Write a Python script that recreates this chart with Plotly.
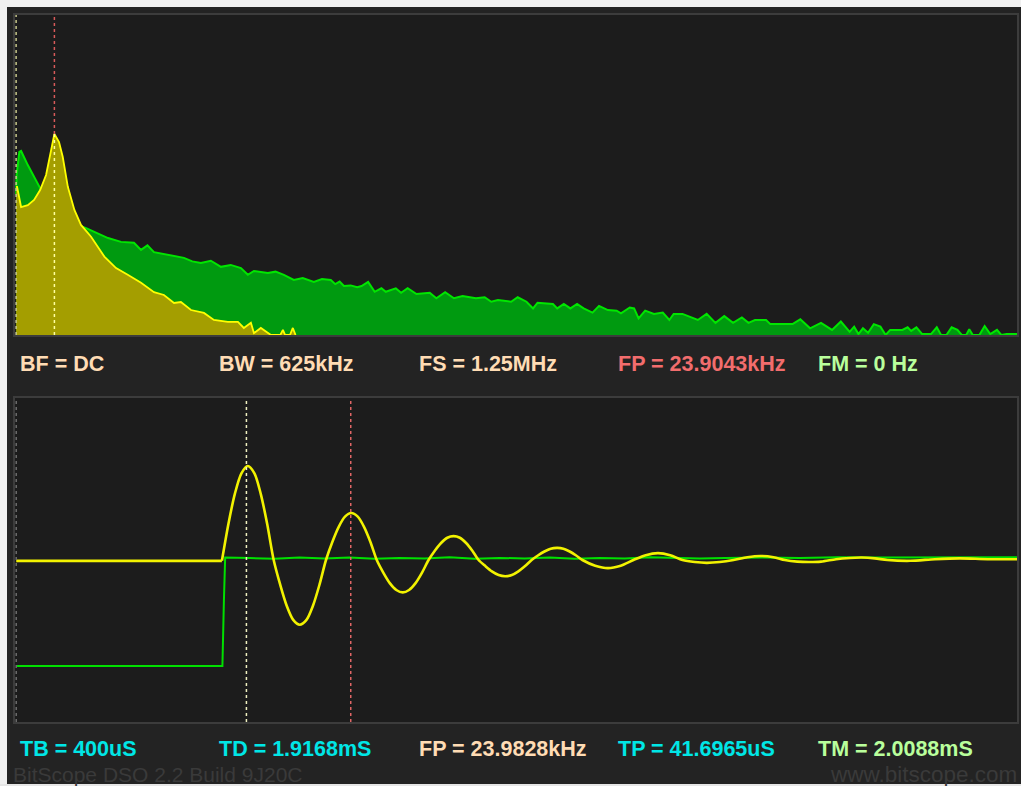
import plotly.graph_objects as go

W, H = 1021, 786

# ---------------- spectrum (top) : frequency in kHz, level in % of screen ----------------
spec_freq_a = [0.0, 0.6, 3.1, 7.3, 11.2, 15.0, 18.7, 21.8, 23.9, 26.8, 29.1, 32.3, 36.4, 40.5, 46.8,
               55.1, 62.4, 69.7, 78.0, 86.1, 92.3, 98.6, 102.9, 109.2, 117.3, 123.5, 132.2, 138.5,
               142.2, 146.6, 148.5, 152.8, 157.2, 159.1, 165.0, 166.6, 168.0, 171.0, 172.8, 174.5]
spec_level_a = [46.3, 46.3, 40.0, 40.6, 42.2, 45.3, 50.0, 57.8, 62.8, 60.3, 55.7, 46.3, 39.1, 34.4, 30.7,
                24.5, 20.9, 18.8, 16.3, 13.4, 12.5, 10.0, 10.3, 7.8, 6.9, 4.7, 4.1, 4.1,
                2.2, 3.8, 0.6, 2.2, 0.6, 0.0, 0.0, 1.6, 0.0, 0.0, 2.2, 0.0]

spec_freq_b = [0.0, 0.3, 2.0, 3.1, 7.3, 11.2, 15.0, 21.8, 29.1, 36.4, 40.5, 43.7, 49.9, 57.4, 65.5,
               73.6, 78.0, 82.0, 86.1, 94.8, 104.8, 110.0, 115.4, 121.6, 127.9, 134.0, 140.4, 144.7,
               148.5, 157.2, 162.0, 167.2, 173.4, 179.0, 185.9, 191.0, 196.5, 199.3, 202.0, 204.7,
               208.9, 213.0, 215.7, 219.8, 223.9, 228.1, 230.8, 237.1, 240.4, 244.5, 250.0, 258.3,
               262.4, 267.9, 273.4, 278.8, 287.1, 292.6, 296.7, 300.9, 309.1, 313.2, 318.7, 322.8,
               325.6, 335.2, 337.9, 342.0, 346.1, 350.3, 354.4, 359.9, 364.0, 369.5, 375.0, 377.7,
               383.2, 385.9, 388.7, 392.8, 398.3, 403.8, 407.9, 410.6, 416.1, 425.7, 431.2, 436.7,
               442.2, 447.7, 453.2, 457.3, 461.4, 468.3, 471.0, 484.8, 489.7, 495.8, 502.6, 509.5,
               515.0, 520.5, 523.3, 526.0, 528.8, 532.0, 535.6, 539.7, 543.0, 545.8, 553.4, 556.7,
               558.9, 562.2, 565.8, 571.3, 574.9, 577.6, 580.9, 584.2, 587.8, 590.5, 593.3, 595.2,
               597.4, 601.5, 604.8, 608.3, 612.5, 615.2, 618.5, 623.4, 625.0]
spec_level_b = [44.0, 50.0, 57.2, 57.5, 53.1, 49.4, 45.9, 40.0, 38.0, 35.5, 34.0, 33.4, 31.9, 30.3, 29.1,
                28.8, 26.6, 28.0, 25.9, 25.0, 24.1, 23.0, 22.5, 23.2, 21.3, 21.9, 20.9, 18.8,
                20.0, 19.4, 19.8, 18.8, 17.2, 17.8, 16.6, 17.5, 17.2, 15.9, 16.7, 15.3,
                15.5, 14.9, 15.3, 16.6, 13.5, 14.6, 13.5, 14.6, 13.2, 14.6, 12.8, 13.2,
                11.5, 13.4, 11.5, 12.2, 11.5, 11.8, 10.4, 10.9, 10.4, 11.8, 10.4, 8.3,
                10.1, 9.7, 8.3, 9.7, 8.3, 9.7, 8.3, 7.0, 9.1, 7.8, 7.6, 6.8,
                8.6, 8.3, 5.2, 7.6, 6.6, 7.0, 4.7, 6.6, 6.6, 4.7, 6.6, 3.8,
                5.9, 3.8, 5.5, 3.8, 4.7, 4.7, 3.4, 3.4, 4.9, 2.1, 3.8, 1.6,
                4.2, 1.0, 2.6, 0.3, 2.1, 0.7, 3.4, 2.6, 0.0, 1.6, 1.6, 2.4,
                1.3, 2.4, 0.3, 0.3, 2.4, 0.0, 0.0, 2.4, 1.6, 0.0, 0.0, 1.8,
                0.0, 0.0, 2.8, 0.3, 1.6, 0.0, 0.3, 0.3, 0.3]

spec_marker_fm = 0.0        # kHz
spec_marker_fp = 23.9043    # kHz

# ---------------- time domain (bottom) : time in us, volts ----------------
# channel A: pre-trigger flat part, then the ringing
chA_pre_t = [1916.8, 1999.0]
chA_pre_v = [-0.02, -0.02]
chA_t = [1999.0,
         2001.6, 2004.2, 2006.8, 2009.35, 2012.0, 2014.5, 2017.1, 2019.7,
         2022.3, 2024.9, 2027.5, 2030.1, 2032.8, 2035.4, 2038.0, 2040.6,
         2043.1, 2045.7, 2048.2, 2050.7, 2053.3, 2055.8, 2058.4, 2060.9,
         2063.5, 2066.1, 2068.7, 2071.3, 2073.8, 2076.4, 2079.0, 2081.6,
         2084.1, 2086.6, 2089.1, 2091.6, 2094.1, 2096.6, 2099.1, 2101.6,
         2104.3, 2106.9, 2109.6, 2112.2, 2114.9, 2117.5, 2120.2, 2122.8,
         2125.3, 2127.9, 2130.4, 2133.0, 2135.5, 2138.0, 2140.6, 2143.1,
         2148.2, 2153.3, 2158.4, 2163.5,
         2168.4, 2173.3, 2178.2, 2183.1,
         2188.0, 2192.8, 2198.0, 2203.5,
         2209.0, 2214.2, 2219.5, 2224.0, 2229.0, 2233.6, 2238.5, 2244.5,
         2250.0, 2254.8, 2260.0, 2265.0, 2274.1, 2284.0, 2294.0, 2305.0, 2316.8]
chA_v = [-0.02,
         0.89, 1.64, 2.14, 2.32, 2.14, 1.64, 0.89, 0.0,
         -0.61, -1.13, -1.48, -1.60, -1.48, -1.13, -0.61, 0.0,
         0.44, 0.82, 1.07, 1.16, 1.07, 0.82, 0.44, 0.0,
         -0.31, -0.57, -0.74, -0.80, -0.74, -0.57, -0.31, 0.0,
         0.23, 0.42, 0.55, 0.59, 0.55, 0.42, 0.23, 0.0,
         -0.15, -0.28, -0.37, -0.40, -0.37, -0.28, -0.15, 0.0,
         0.11, 0.21, 0.28, 0.30, 0.28, 0.21, 0.11, 0.0,
         -0.14, -0.20, -0.14, 0.0,
         0.12, 0.17, 0.12, 0.0,
         -0.05, -0.07, -0.05, 0.0,
         0.07, 0.10, 0.07, 0.0, -0.04, -0.05, -0.04, 0.02,
         0.05, 0.06, 0.04, 0.0, -0.02, 0.02, 0.04, 0.02, 0.02]

chB_t = [1916.8, 1999.2, 1999.8, 2000.3, 2010, 2020, 2030, 2040, 2050, 2060, 2070, 2080, 2090,
         2100, 2110, 2120, 2130, 2140, 2150, 2160, 2170, 2180, 2190, 2200, 2215, 2230, 2245,
         2260, 2280, 2300, 2316.8]
chB_v = [-2.62, -2.62, -1.0, 0.06, 0.05, 0.03, 0.06, 0.04, 0.06, 0.03, 0.05, 0.04, 0.07,
         0.03, 0.05, 0.04, 0.06, 0.03, 0.05, 0.04, 0.07, 0.05, 0.04, 0.05, 0.06, 0.05, 0.07,
         0.06, 0.07, 0.07, 0.07]

t_start = 1916.8
t_span = 400.0
t_cursor_tm = 2008.8
t_period = 41.6965

top_labels = [("BF = DC", "#ffdcb4"), ("BW = 625kHz", "#ffdcb4"), ("FS = 1.25MHz", "#ffdcb4"),
              ("FP = 23.9043kHz", "#f26d6d"), ("FM = 0 Hz", "#b9ff9c")]
bottom_labels = [("TB = 400uS", "#00e6e6"), ("TD = 1.9168mS", "#00e6e6"), ("FP = 23.9828kHz", "#ffdcb4"),
                 ("TP = 41.6965uS", "#00e6e6"), ("TM = 2.0088mS", "#b9ff9c")]
footer_left = "BitScope DSO 2.2 Build 9J20C"
footer_right = "www.bitscope.com"

# ---------------- figure ----------------
def px(xp):
    return xp / W

def py(yp):
    return 1 - yp / H

fig = go.Figure()

fig.add_trace(go.Scatter(x=spec_freq_b, y=spec_level_b, mode="lines", fill="tozeroy",
                         line=dict(color="#00e600", width=2), fillcolor="#009a10",
                         xaxis="x", yaxis="y", hoverinfo="skip"))
fig.add_trace(go.Scatter(x=spec_freq_a, y=spec_level_a, mode="lines", fill="tozeroy",
                         line=dict(color="#ffff00", width=1.8), fillcolor="#a49e00",
                         xaxis="x", yaxis="y", hoverinfo="skip"))

fig.add_trace(go.Scatter(x=chB_t, y=chB_v, mode="lines", line=dict(color="#00e000", width=2),
                         xaxis="x2", yaxis="y2", hoverinfo="skip"))
fig.add_trace(go.Scatter(x=chA_pre_t, y=chA_pre_v, mode="lines",
                         line=dict(color="#f2f200", width=2.8),
                         xaxis="x2", yaxis="y2", hoverinfo="skip"))
fig.add_trace(go.Scatter(x=chA_t, y=chA_v, mode="lines",
                         line=dict(color="#f2f200", width=2.6, shape="spline", smoothing=0.8),
                         xaxis="x2", yaxis="y2", hoverinfo="skip"))

axis_common = dict(showgrid=False, zeroline=False, showticklabels=False, ticks="",
                   showline=True, mirror=True, linecolor="#3c3c3c", linewidth=2, fixedrange=True)

peak_level = max(spec_level_a)

shapes = [
    # light window frame strips
    dict(type="rect", xref="paper", yref="paper", x0=0, x1=px(7), y0=0, y1=1,
         fillcolor="#f0f0f0", line=dict(width=0), layer="above"),
    dict(type="rect", xref="paper", yref="paper", x0=0, x1=1, y0=py(7), y1=1,
         fillcolor="#f0f0f0", line=dict(width=0), layer="above"),
    dict(type="rect", xref="paper", yref="paper", x0=0, x1=1, y0=0, y1=py(784),
         fillcolor="#e6e6e6", line=dict(width=0), layer="above"),
    # spectrum cursors
    dict(type="line", xref="x", yref="y", x0=spec_marker_fm, x1=spec_marker_fm, y0=0, y1=100,
         line=dict(color="#c8c88c", width=1.5, dash="dot")),
    dict(type="line", xref="x", yref="y", x0=spec_marker_fp, x1=spec_marker_fp, y0=peak_level, y1=100,
         line=dict(color="#d85a5a", width=1.5, dash="dot")),
    dict(type="line", xref="x", yref="y", x0=spec_marker_fp, x1=spec_marker_fp, y0=0, y1=peak_level,
         line=dict(color="#ffffa0", width=1.5, dash="dot")),
    # time cursors
    dict(type="line", xref="x2", yref="y2", x0=t_start, x1=t_start, y0=-4, y1=4,
         line=dict(color="#6a6a6a", width=1.5, dash="dot")),
    dict(type="line", xref="x2", yref="y2", x0=t_cursor_tm, x1=t_cursor_tm, y0=-4, y1=4,
         line=dict(color="#f0f0c0", width=1.5, dash="dot")),
    dict(type="line", xref="x2", yref="y2", x0=t_cursor_tm + t_period, x1=t_cursor_tm + t_period, y0=-4, y1=4,
         line=dict(color="#e06666", width=1.5, dash="dot")),
]

annotations = []
label_x = [18, 217, 417, 616, 816]
for (txt, col), xl in zip(top_labels, label_x):
    annotations.append(dict(text="<b>" + txt + "</b>", x=px(xl), y=py(364), xref="paper", yref="paper",
                            xanchor="left", yanchor="middle", showarrow=False,
                            font=dict(family="Liberation Sans, Arial", size=21.5, color=col)))
for (txt, col), xl in zip(bottom_labels, label_x):
    annotations.append(dict(text="<b>" + txt + "</b>", x=px(xl), y=py(749), xref="paper", yref="paper",
                            xanchor="left", yanchor="middle", showarrow=False,
                            font=dict(family="Liberation Sans, Arial", size=21.5, color=col)))
annotations.append(dict(text=footer_left, x=px(11), y=py(774), xref="paper", yref="paper",
                        xanchor="left", yanchor="middle", showarrow=False,
                        font=dict(family="Liberation Sans, Arial", size=21, color="#3a3a3a")))
annotations.append(dict(text=footer_right, x=px(1019), y=py(774), xref="paper", yref="paper",
                        xanchor="right", yanchor="middle", showarrow=False,
                        font=dict(family="Liberation Sans, Arial", size=22.5, color="#3a3a3a")))

fig.update_layout(
    width=W, height=H, autosize=False,
    margin=dict(l=0, r=0, t=0, b=0),
    paper_bgcolor="#232323", plot_bgcolor="#1c1c1c",
    showlegend=False,
    xaxis=dict(domain=[px(15), px(1017)], range=[-0.7, 625], anchor="y", **axis_common),
    yaxis=dict(domain=[py(335), py(15)], range=[0, 100], anchor="x", **axis_common),
    xaxis2=dict(domain=[px(15), px(1017)], range=[t_start - 0.5, t_start + t_span], anchor="y2", **axis_common),
    yaxis2=dict(domain=[py(722), py(398)], range=[-4, 4], anchor="x2", **axis_common),
    shapes=shapes,
    annotations=annotations,
)

fig.write_html("out.html", config={"displayModeBar": False},
               post_script="document.body.style.margin='0';document.body.style.overflow='hidden';")
